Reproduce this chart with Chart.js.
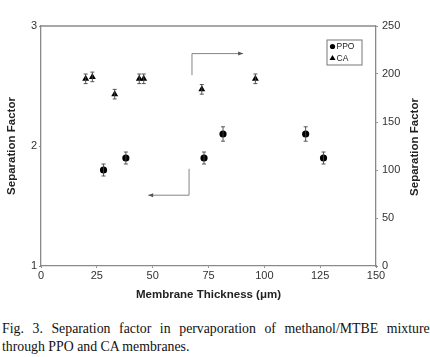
<!DOCTYPE html>
<html><head><meta charset="utf-8">
<script src="https://cdn.jsdelivr.net/npm/chart.js@4"></script>
<style>
html,body{margin:0;padding:0;background:#fff}
body{width:430px;height:357px;overflow:hidden;position:relative}
#wrap{position:absolute;left:0;top:0;width:430px;height:305px}
#cap{position:absolute;left:2px;top:320px;width:433px;font-family:"Liberation Serif","DejaVu Serif",serif;font-size:13.8px;line-height:18px;color:#111}
#cap .l1{text-align:justify;text-align-last:justify;white-space:nowrap;overflow:visible}
</style></head><body>
<div id="wrap"><canvas id="c" width="430" height="305"></canvas></div>
<div id="cap"><div class="l1">Fig. 3. Separation factor in pervaporation of methanol/MTBE mixtures</div><div>through PPO and CA membranes.</div></div>
<script>
// ---- data ----
const ppoX = [28, 38, 73, 81.5, 118.5, 126.5];
const ppoY = [1.8, 1.9, 1.9, 2.1, 2.1, 1.9];
const ppoErr = [0.05, 0.05, 0.05, 0.06, 0.06, 0.05];
const caX = [20, 23, 33, 44, 46, 72, 96];
const caY = [195, 197, 179, 195, 195, 184, 195];
const caErr = [5, 5, 5, 5, 5, 5, 5];
const xTicks = [0, 25, 50, 75, 100, 125, 150];
const leftTicks = [1, 2, 3];
const rightTicks = [0, 50, 100, 150, 200, 250];
// annotation arrows (data units, left axis)
const arrowPPO = [[66.3, 1.81], [66.3, 1.59], [48, 1.59]];
const arrowCA = [[67.6, 2.59], [67.6, 2.77], [90.5, 2.77]];

const AX = '#8a8a8a';
const tickFont = {family: 'Liberation Sans, Arial, sans-serif', size: 11};
const titleFont = {family: 'Liberation Sans, Arial, sans-serif', size: 11.5, weight: 'bold'};

const extras = {
  id: 'extras',
  afterDatasetsDraw(chart) {
    const ctx = chart.ctx, xs = chart.scales.x, yl = chart.scales.y, yr = chart.scales.y2;
    const ca = chart.chartArea;
    ctx.save();
    ctx.strokeStyle = AX; ctx.lineWidth = 1.3;
    ctx.beginPath();
    ctx.moveTo(ca.left, ca.top); ctx.lineTo(ca.right, ca.top);
    ctx.stroke();
    const eb = (xsArr, ysArr, errs, ys) => {
      ctx.strokeStyle = '#444'; ctx.lineWidth = 0.9;
      for (let i = 0; i < xsArr.length; i++) {
        const px = xs.getPixelForValue(xsArr[i]);
        const y1 = ys.getPixelForValue(ysArr[i] - errs[i]);
        const y2 = ys.getPixelForValue(ysArr[i] + errs[i]);
        ctx.beginPath();
        ctx.moveTo(px, y1); ctx.lineTo(px, y2);
        ctx.moveTo(px - 2, y1); ctx.lineTo(px + 2, y1);
        ctx.moveTo(px - 2, y2); ctx.lineTo(px + 2, y2);
        ctx.stroke();
      }
    };
    eb(ppoX, ppoY, ppoErr, yl);
    eb(caX, caY, caErr, yr);
    const arrow = (pts) => {
      ctx.strokeStyle = '#777'; ctx.fillStyle = '#555'; ctx.lineWidth = 0.9;
      const P = pts.map(p => [xs.getPixelForValue(p[0]), yl.getPixelForValue(p[1])]);
      ctx.beginPath();
      ctx.moveTo(P[0][0], P[0][1]);
      for (let i = 1; i < P.length; i++) ctx.lineTo(P[i][0], P[i][1]);
      ctx.stroke();
      const a = P[P.length - 2], b = P[P.length - 1];
      const dir = Math.sign(b[0] - a[0]);
      ctx.beginPath();
      ctx.moveTo(b[0], b[1]);
      ctx.lineTo(b[0] - dir * 5, b[1] - 2);
      ctx.lineTo(b[0] - dir * 5, b[1] + 2);
      ctx.closePath(); ctx.fill();
    };
    arrow(arrowPPO);
    arrow(arrowCA);
    const lx = ca.right - 49, ly = ca.top + 14, lw = 35, lh = 25;
    ctx.strokeStyle = '#777'; ctx.lineWidth = 1;
    ctx.strokeRect(lx, ly, lw, lh);
    ctx.fillStyle = '#000';
    ctx.beginPath(); ctx.arc(lx + 5.5, ly + 6.5, 2.6, 0, Math.PI * 2); ctx.fill();
    ctx.beginPath();
    ctx.moveTo(lx + 5.5, ly + 15); ctx.lineTo(lx + 8.5, ly + 20); ctx.lineTo(lx + 2.5, ly + 20); ctx.closePath(); ctx.fill();
    ctx.font = '8.5px "Liberation Sans", Arial, sans-serif';
    ctx.fillStyle = '#222'; ctx.textBaseline = 'middle'; ctx.textAlign = 'left';
    ctx.fillText('PPO', lx + 9.5, ly + 6.8);
    ctx.fillText('CA', lx + 9.5, ly + 18.2);
    ctx.save();
    ctx.translate(415, (ca.top + ca.bottom) / 2 + 1);
    ctx.rotate(-Math.PI / 2);
    ctx.font = 'bold 11.5px "Liberation Sans", Arial, sans-serif';
    ctx.fillStyle = '#222'; ctx.textAlign = 'center'; ctx.textBaseline = 'middle';
    ctx.fillText('Separation Factor', 0, 0);
    ctx.restore();
    ctx.restore();
  }
};

new Chart(document.getElementById('c'), {
  type: 'scatter',
  data: {
    datasets: [
      {label: 'PPO', data: ppoX.map((x, i) => ({x, y: ppoY[i]})), yAxisID: 'y',
       pointStyle: 'circle', pointRadius: 3.6, backgroundColor: '#000', borderColor: '#000', borderWidth: 0},
      {label: 'CA', data: caX.map((x, i) => ({x, y: caY[i]})), yAxisID: 'y2',
       pointStyle: 'triangle', pointRadius: 4, backgroundColor: '#000', borderColor: '#000', borderWidth: 0}
    ]
  },
  options: {
    responsive: false, animation: false,
    layout: {padding: {top: 26, left: 0, right: 0, bottom: 0}},
    plugins: {legend: {display: false}, tooltip: {enabled: false}},
    scales: {
      x: {
        type: 'linear', min: 0, max: 150,
        afterBuildTicks: s => { s.ticks = xTicks.map(v => ({value: v})); },
        ticks: {font: tickFont, color: '#333', padding: 1, maxRotation: 0},
        grid: {display: true, drawOnChartArea: false, drawTicks: true, tickLength: 2, color: AX},
        border: {color: AX, width: 1.3},
        title: {display: true, text: 'Membrane Thickness (μm)', font: titleFont, color: '#222', padding: {top: 0, bottom: 3.5}},
        afterFit: s => { s.height = 39; }
      },
      y: {
        position: 'left', min: 1, max: 3,
        afterBuildTicks: s => { s.ticks = leftTicks.map(v => ({value: v})); },
        ticks: {font: tickFont, color: '#333', padding: 2},
        grid: {display: true, drawOnChartArea: false, tickLength: 2, color: AX},
        border: {color: AX, width: 1.3},
        title: {display: true, text: 'Separation Factor', font: titleFont, color: '#222', padding: {top: 4.5, bottom: 0}},
        afterFit: s => { s.width = 41; }
      },
      y2: {
        position: 'right', min: 0, max: 250,
        afterBuildTicks: s => { s.ticks = rightTicks.map(v => ({value: v})); },
        ticks: {font: tickFont, color: '#333', padding: 4},
        grid: {display: true, drawOnChartArea: false, tickLength: 2, color: AX},
        border: {color: AX, width: 1.3},
        afterFit: s => { s.width = 54; }
      }
    }
  },
  plugins: [extras]
});
</script>
</body></html>
